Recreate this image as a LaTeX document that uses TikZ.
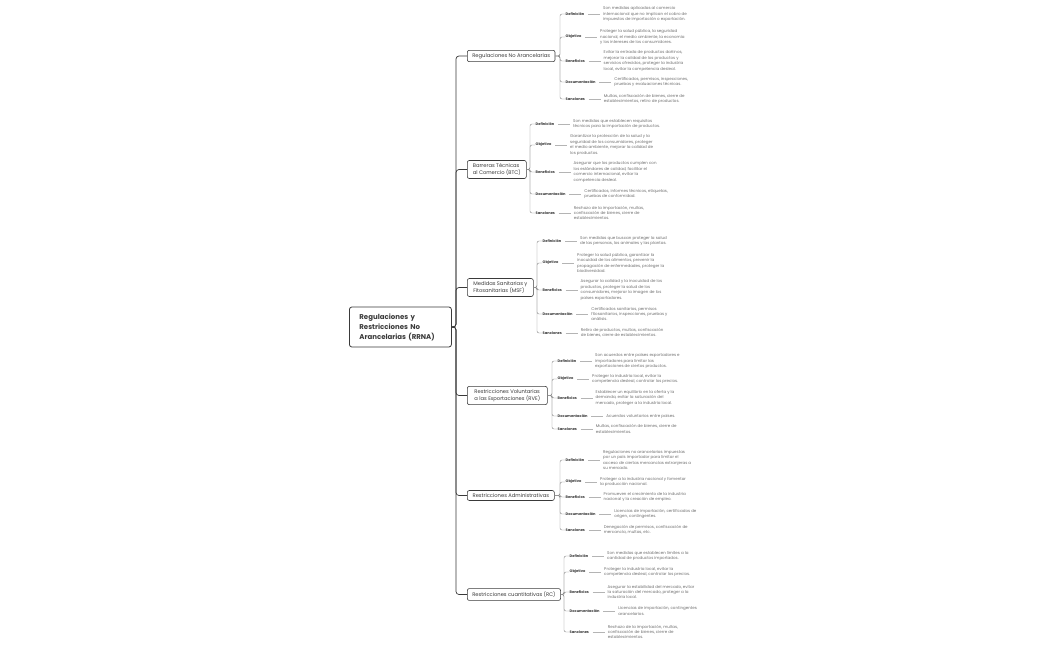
\documentclass[tikz,border=0pt]{standalone}
\usepackage{fontspec}
\setmainfont{Poppins}
\usetikzlibrary{positioning}
\definecolor{colTronco}{HTML}{3A3A3A}
\definecolor{colRama}{HTML}{8A8A8A}
\definecolor{colHoja}{HTML}{B4B4B4}
\definecolor{colTexto}{HTML}{6E6E6E}
\tikzset{
  raiz/.style={draw=colTronco, line width=0.8pt, rounded corners=2.5pt, anchor=west, align=left,
    text width=82pt, inner xsep=10pt, inner ysep=5pt, minimum height=40pt,
    font=\bfseries\fontsize{7}{10}\selectfont, text=colTronco},
  tema/.style={draw=colTronco, line width=0.6pt, rounded corners=2pt, anchor=west, align=left,
    inner xsep=5pt, inner ysep=3pt, font=\fontsize{5.2}{7}\selectfont, text=colTronco},
  etiqueta/.style={anchor=west, inner sep=0.5pt, font=\bfseries\fontsize{3.6}{4.5}\selectfont, text=colTronco},
  hoja/.style={align=left, inner sep=0pt, font=\fontsize{4}{5.4}\selectfont, text=colTexto},
  tronco/.style={draw=colTronco, line width=0.7pt, rounded corners=3pt},
  ramal/.style={draw=colRama, line width=0.45pt, rounded corners=2pt},
  enlace/.style={draw=colHoja, line width=0.4pt}
}
\begin{document}
\begin{tikzpicture}[x=1pt, y=-1pt]
\useasboundingbox (0,0) rectangle (1050,650);

\node[raiz] (root) at (349,327) {Regulaciones y\\Restricciones No\\Arancelarias (RRNA)};

\node[tema, minimum width=87pt] (reg) at (467,56) {Regulaciones No Arancelarias};
\node[tema, minimum width=59pt] (btc) at (467,169.5) {Barreras Técnicas\\al Comercio (BTC)};
\node[tema, minimum width=66pt] (msf) at (467,287.5) {Medidas Sanitarias y\\Fitosanitarias (MSF)};
\node[tema, minimum width=80pt] (rve) at (467,395.5) {Restricciones Voluntarias\\a las Exportaciones (RVE)};
\node[tema, minimum width=87pt] (adm) at (467,495.5) {Restricciones Administrativas};
\node[tema, minimum width=93pt] (rc) at (467,594.5) {Restricciones cuantitativas (RC)};

% Regulaciones No Arancelarias
\node[etiqueta] (regdef) at (565,14) {Definición};
\node[etiqueta] (regobj) at (565,37) {Objetivo};
\node[etiqueta] (regben) at (565,61) {Beneficios};
\node[etiqueta] (regdoc) at (565,82) {Documentación};
\node[etiqueta] (regsan) at (565,99) {Sanciones};
\node[hoja, right=18pt of regdef] (regdef-txt) {Son medidas aplicadas al comercio\\internacional que no implican el cobro de\\impuestos de importación o exportación.};
\node[hoja, right=18pt of regobj] (regobj-txt) {Proteger la salud pública, la seguridad\\nacional, el medio ambiente, la economía\\y los intereses de los consumidores.};
\node[hoja, right=18pt of regben] (regben-txt) {Evitar la entrada de productos dañinos,\\mejorar la calidad de los productos y\\servicios ofrecidos, proteger la industria\\local, evitar la competencia desleal.};
\node[hoja, right=18pt of regdoc] (regdoc-txt) {Certificados, permisos, inspecciones,\\pruebas y evaluaciones técnicas.};
\node[hoja, right=18pt of regsan] (regsan-txt) {Multas, confiscación de bienes, cierre de\\establecimientos, retiro de productos.};

% Barreras Tecnicas al Comercio
\node[etiqueta] (btcdef) at (535,124) {Definición};
\node[etiqueta] (btcobj) at (535,145) {Objetivo};
\node[etiqueta] (btcben) at (535,172) {Beneficios};
\node[etiqueta] (btcdoc) at (535,194) {Documentación};
\node[etiqueta] (btcsan) at (535,213) {Sanciones};
\node[hoja, right=18pt of btcdef] (btcdef-txt) {Son medidas que establecen requisitos\\técnicos para la importación de productos.};
\node[hoja, right=18pt of btcobj] (btcobj-txt) {Garantizar la protección de la salud y la\\seguridad de los consumidores, proteger\\el medio ambiente, mejorar la calidad de\\los productos.};
\node[hoja, right=18pt of btcben] (btcben-txt) {Asegurar que los productos cumplen con\\los estándares de calidad, facilitar el\\comercio internacional, evitar la\\competencia desleal.};
\node[hoja, right=18pt of btcdoc] (btcdoc-txt) {Certificados, informes técnicos, etiquetas,\\pruebas de conformidad.};
\node[hoja, right=18pt of btcsan] (btcsan-txt) {Rechazo de la importación, multas,\\confiscación de bienes, cierre de\\establecimientos.};

% Medidas Sanitarias y Fitosanitarias
\node[etiqueta] (msfdef) at (542,241) {Definición};
\node[etiqueta] (msfobj) at (542,263) {Objetivo};
\node[etiqueta] (msfben) at (542,290) {Beneficios};
\node[etiqueta] (msfdoc) at (542,314) {Documentación};
\node[etiqueta] (msfsan) at (542,333) {Sanciones};
\node[hoja, right=18pt of msfdef] (msfdef-txt) {Son medidas que buscan proteger la salud\\de las personas, los animales y las plantas.};
\node[hoja, right=18pt of msfobj] (msfobj-txt) {Proteger la salud pública, garantizar la\\inocuidad de los alimentos, prevenir la\\propagación de enfermedades, proteger la\\biodiversidad.};
\node[hoja, right=18pt of msfben] (msfben-txt) {Asegurar la calidad y la inocuidad de los\\productos, proteger la salud de los\\consumidores, mejorar la imagen de los\\países exportadores.};
\node[hoja, right=18pt of msfdoc] (msfdoc-txt) {Certificados sanitarios, permisos\\fitosanitarios, inspecciones, pruebas y\\análisis.};
\node[hoja, right=18pt of msfsan] (msfsan-txt) {Retiro de productos, multas, confiscación\\de bienes, cierre de establecimientos.};

% Restricciones Voluntarias a las Exportaciones
\node[etiqueta] (rvedef) at (557,361) {Definición};
\node[etiqueta] (rveobj) at (557,379) {Objetivo};
\node[etiqueta] (rveben) at (557,398) {Beneficios};
\node[etiqueta] (rvedoc) at (557,416) {Documentación};
\node[etiqueta] (rvesan) at (557,429) {Sanciones};
\node[hoja, right=18pt of rvedef] (rvedef-txt) {Son acuerdos entre países exportadores e\\importadores para limitar las\\exportaciones de ciertos productos.};
\node[hoja, right=18pt of rveobj] (rveobj-txt) {Proteger la industria local, evitar la\\competencia desleal, controlar los precios.};
\node[hoja, right=18pt of rveben] (rveben-txt) {Establecer un equilibrio en la oferta y la\\demanda, evitar la saturación del\\mercado, proteger a la industria local.};
\node[hoja, right=18pt of rvedoc] (rvedoc-txt) {Acuerdos voluntarios entre países.};
\node[hoja, right=18pt of rvesan] (rvesan-txt) {Multas, confiscación de bienes, cierre de\\establecimientos.};

% Restricciones Administrativas
\node[etiqueta] (admdef) at (565,460) {Definición};
\node[etiqueta] (admobj) at (565,482) {Objetivo};
\node[etiqueta] (admben) at (565,497) {Beneficios};
\node[etiqueta] (admdoc) at (565,514) {Documentación};
\node[etiqueta] (admsan) at (565,530) {Sanciones};
\node[hoja, right=18pt of admdef] (admdef-txt) {Regulaciones no arancelarias impuestas\\por un país importador para limitar el\\acceso de ciertas mercancías extranjeras a\\su mercado.};
\node[hoja, right=18pt of admobj] (admobj-txt) {Proteger a la industria nacional y fomentar\\la producción nacional.};
\node[hoja, right=18pt of admben] (admben-txt) {Promueven el crecimiento de la industria\\nacional y la creación de empleo.};
\node[hoja, right=18pt of admdoc] (admdoc-txt) {Licencias de importación, certificados de\\origen, contingentes.};
\node[hoja, right=18pt of admsan] (admsan-txt) {Denegación de permisos, confiscación de\\mercancía, multas, etc.};

% Restricciones cuantitativas
\node[etiqueta] (rcdef) at (569,556) {Definición};
\node[etiqueta] (rcobj) at (569,572) {Objetivo};
\node[etiqueta] (rcben) at (569,592) {Beneficios};
\node[etiqueta] (rcdoc) at (569,611) {Documentación};
\node[etiqueta] (rcsan) at (569,632) {Sanciones};
\node[hoja, right=18pt of rcdef] (rcdef-txt) {Son medidas que establecen límites a la\\cantidad de productos importados.};
\node[hoja, right=18pt of rcobj] (rcobj-txt) {Proteger la industria local, evitar la\\competencia desleal, controlar los precios.};
\node[hoja, right=18pt of rcben] (rcben-txt) {Asegurar la estabilidad del mercado, evitar\\la saturación del mercado, proteger a la\\industria local.};
\node[hoja, right=18pt of rcdoc] (rcdoc-txt) {Licencias de importación, contingentes\\arancelarios.};
\node[hoja, right=18pt of rcsan] (rcsan-txt) {Rechazo de la importación, multas,\\confiscación de bienes, cierre de\\establecimientos.};

\foreach \b in {reg,btc,msf,rve,adm,rc} {
  \draw[tronco] (root.east) -| ([xshift=-11pt]\b.west) -- (\b.west);
  \foreach \k in {def,obj,ben,doc,san} {
    \draw[ramal] (\b.east) -| ([xshift=-5pt]\b\k.west) -- (\b\k.west);
    \draw[enlace] ([xshift=3pt]\b\k.east) -- ([xshift=-3pt]\b\k-txt.west);
  }
}
\end{tikzpicture}
\end{document}
